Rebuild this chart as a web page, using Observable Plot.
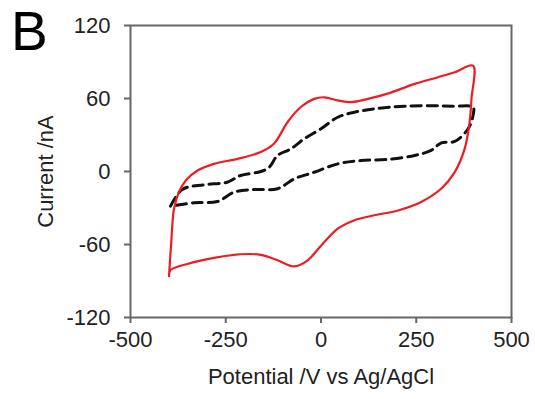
<!DOCTYPE html>
<html>
<head>
<meta charset="utf-8">
<script src="https://cdn.jsdelivr.net/npm/d3@7"></script>
<script src="https://cdn.jsdelivr.net/npm/@observablehq/plot@0.6"></script>
<style>
  html, body { margin: 0; padding: 0; background: #fff; }
  #wrap { position: relative; width: 535px; height: 399px; font-family: "Liberation Sans", Arial, sans-serif; }
  #panel { position: absolute; left: 11px; top: 4px; font-size: 55px; color: #000; line-height: 1; }
</style>
</head>
<body>
<div id="wrap"><div id="panel">B</div></div>
<script>
// Red CV loop (potential in mV, current in nA)
const redX = [-399,-395,-351,-281,-211,-158,-114,-70,-35,0,44,88,140,202,263,316,351,377,390,395,399,
              351,307,246,175,123,79,44,9,-18,-53,-88,-123,-158,-219,-281,-324,-355,-373,-386,-393,-399];
const redY = [-86,-81,-76,-71,-68,-68.5,-73,-78,-73,-61,-47,-40,-36,-32,-25,-14,-0.5,18.6,40.5,60,87,
              81.6,77.5,72,64,59.7,57,58.4,61,59.7,53,40.5,23,16,10.4,6.3,0.8,-7.4,-17,-31,-58,-86];
// Black dashed loop
const blackX = [-395,-364,-307,-246,-211,-158,-136,-114,-79,-44,0,44,88,140,219,351,399,
                399,386,351,316,289,246,175,105,44,-18,-70,-114,-175,-228,-272,-333,-395];
const blackY = [-28.5,-14.8,-10.9,-8.8,-3.3,0,3.5,13.2,18.6,26.9,35.1,44.6,48.7,51.5,53.7,53.7,52.8,
                46,35.1,24.7,23.6,17.3,13.2,9.9,9,6.3,-0.6,-6,-14.2,-14.8,-17,-24.7,-25.7,-28.5];
const xTicks = [-500,-250,0,250,500];
const yTicks = [-120,-60,0,60,120];

const red = redX.map((x, i) => ({x, y: redY[i]}));
const black = blackX.map((x, i) => ({x, y: blackY[i]}));

const chart = Plot.plot({
  width: 535,
  height: 399,
  marginLeft: 130,
  marginRight: 24,
  marginTop: 25,
  marginBottom: 82,
  style: {fontFamily: "Liberation Sans, Arial, sans-serif", fontSize: "22px", color: "#222", background: "#fff"},
  x: {domain: [-500, 500]},
  y: {domain: [-120, 120]},
  marks: [
    Plot.line(black, {x: "x", y: "y", stroke: "#111", strokeWidth: 3, strokeDasharray: "10,6", curve: "catmull-rom"}),
    Plot.line(red, {x: "x", y: "y", stroke: "#ee1c24", strokeWidth: 2.2, curve: "catmull-rom"}),
    Plot.frame({stroke: "#666", strokeWidth: 2}),
    Plot.axisX({ticks: xTicks, tickFormat: d => String(d), tickSize: 6, tickPadding: 8, stroke: "#666", strokeWidth: 2,
      label: "Potential /V vs Ag/AgCl", labelAnchor: "center", labelArrow: "none", labelOffset: 66, fontSize: 22}),
    Plot.axisY({ticks: yTicks, tickFormat: d => String(d), tickSize: 6, tickPadding: 14, stroke: "#666", strokeWidth: 2,
      label: "Current /nA", labelAnchor: "center", labelArrow: "none", labelOffset: 93, fontSize: 22})
  ]
});
document.getElementById("wrap").prepend(chart);
</script>
</body>
</html>
